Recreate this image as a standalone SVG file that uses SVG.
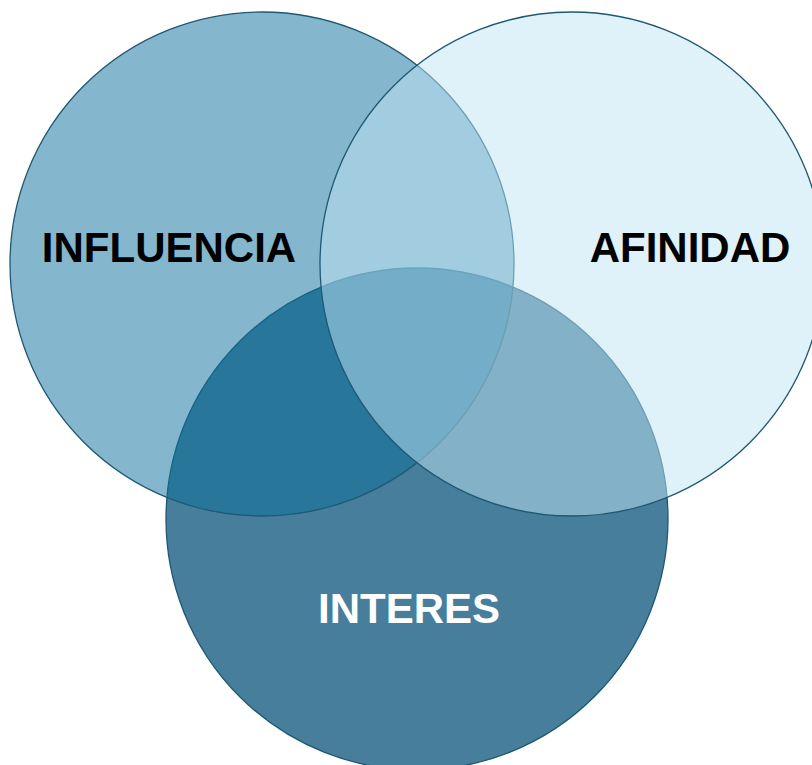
<svg xmlns="http://www.w3.org/2000/svg" width="812" height="765" viewBox="0 0 812 765">
<style>
.c{stroke:#1f5872;stroke-width:1.3}
.t{font-family:"Liberation Sans",Arial,sans-serif;font-weight:bold;font-size:42px;text-anchor:middle}
</style>
<rect width="812" height="765" fill="#ffffff"/>
<g id="interes">
<circle class="c" cx="417" cy="519" r="251" fill="#467e9b"/>
</g>
<g id="influencia">
<circle class="c" cx="262" cy="264" r="252" fill="#096f9b" fill-opacity="0.5"/>
</g>
<g id="afinidad">
<circle class="c" cx="572" cy="264" r="252" fill="#bfe3f3" fill-opacity="0.5"/>
</g>
<g id="labels">
<text class="t" x="169" y="262" fill="#000000">INFLUENCIA</text>
<text class="t" x="690" y="262" fill="#000000">AFINIDAD</text>
<text class="t" x="409" y="623" fill="#ffffff">INTERES</text>
</g>
<g id="connectors"/>
</svg>
